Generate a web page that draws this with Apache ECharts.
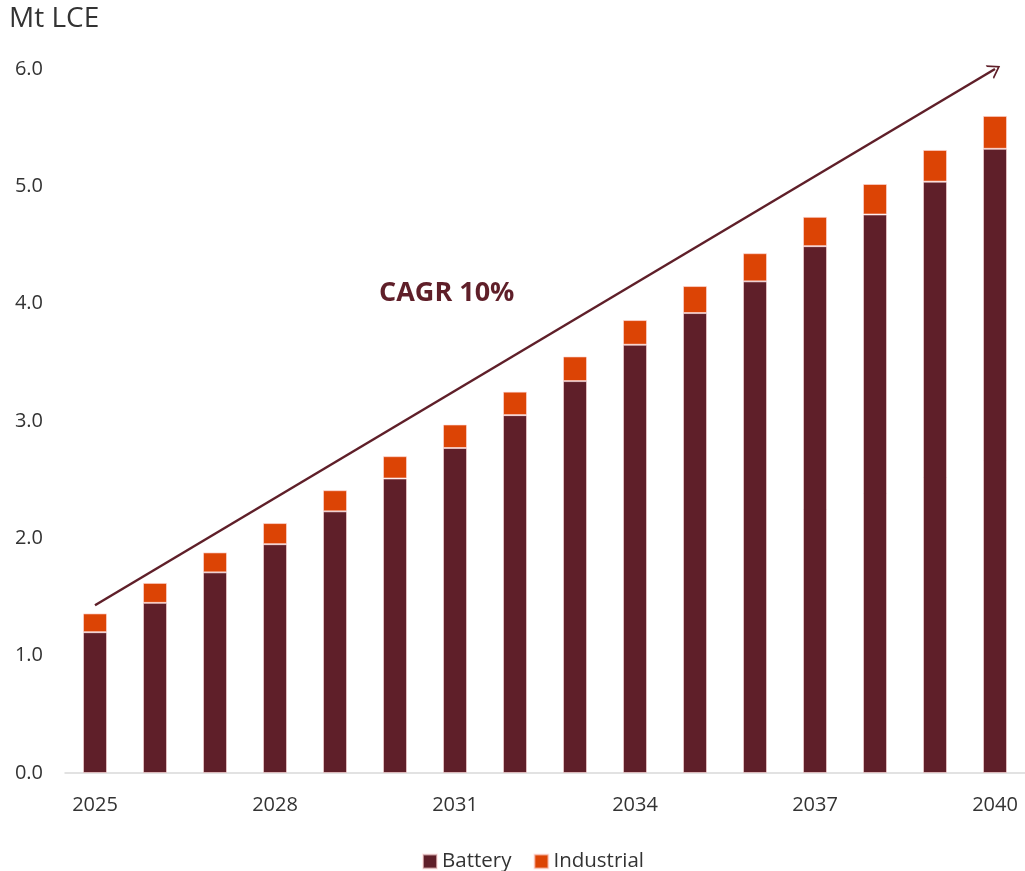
<!DOCTYPE html>
<html>
<head>
<meta charset="utf-8">
<script src="https://cdn.jsdelivr.net/npm/echarts@6/dist/echarts.min.js"></script>
<style>html,body{margin:0;padding:0;background:#fff;}#chart{width:1025px;height:871px;}</style>
</head>
<body>
<div id="chart"></div>
<script>
const years = ['2025','2026','2027','2028','2029','2030','2031','2032','2033','2034','2035','2036','2037','2038','2039','2040'];
const battery = [1.20, 1.45, 1.71, 1.95, 2.23, 2.51, 2.77, 3.05, 3.34, 3.65, 3.92, 4.19, 4.49, 4.76, 5.04, 5.32];
const industrial = [0.16, 0.17, 0.17, 0.18, 0.18, 0.19, 0.20, 0.20, 0.21, 0.21, 0.23, 0.24, 0.25, 0.26, 0.27, 0.28];
const yTicks = [0, 1, 2, 3, 4, 5, 6];
const trendStart = ['2025', 1.43];
const trendEnd = ['2040', 6.0];
const cagrLabel = 'CAGR 10%';
const unitLabel = 'Mt LCE';

const FONT = '"Open Sans", "Noto Sans", sans-serif';
const chart = echarts.init(document.getElementById('chart'));
const chevron = 'path://M0,20 L10,0 L20,20 L17.4,20 L10,5 L2.6,20 Z';

chart.setOption({
  animation: false,
  backgroundColor: '#ffffff',
  textStyle: { fontFamily: FONT },
  grid: { left: 65, right: 0, top: 69, bottom: 98, containLabel: false },
  legend: {
    top: 846,
    left: 417,
    itemWidth: 14,
    itemHeight: 14,
    itemGap: 22,
    icon: 'rect',
    textStyle: { fontFamily: FONT, fontSize: 20.5, color: '#333' },
    data: ['Battery', 'Industrial']
  },
  graphic: [
    { type: 'text', left: 9, top: 5, style: { text: unitLabel, fontFamily: FONT, fontSize: 28, fill: '#333' } },
    { type: 'text', left: 379, top: 280, style: { text: cagrLabel, fontFamily: FONT, fontSize: 27, fontWeight: 'bold', fill: '#5f1f29' } }
  ],
  xAxis: {
    type: 'category',
    data: years,
    axisTick: { show: false },
    axisLine: { lineStyle: { color: '#d9d9d9', width: 1.5 } },
    axisLabel: { interval: 2, fontSize: 20, color: '#333', margin: 22, fontFamily: FONT }
  },
  yAxis: {
    type: 'value',
    min: yTicks[0],
    max: yTicks[yTicks.length - 1],
    interval: 1,
    splitLine: { show: false },
    axisLine: { show: false },
    axisTick: { show: false },
    axisLabel: { fontSize: 20, color: '#333', margin: 22, fontFamily: FONT, formatter: v => v.toFixed(1) }
  },
  series: [
    {
      name: 'Battery', type: 'bar', stack: 'total', barWidth: 24, data: battery,
      itemStyle: { color: '#5f1f29', borderColor: 'rgba(255,220,220,0.6)', borderWidth: 1 },
      markLine: {
        silent: true,
        symbol: ['none', chevron],
        symbolSize: [16, 12],
        label: { show: false },
        lineStyle: { color: '#5f1f29', width: 2.5, type: 'solid' },
        data: [[{ coord: trendStart }, { coord: trendEnd }]]
      }
    },
    {
      name: 'Industrial', type: 'bar', stack: 'total', barWidth: 24, data: industrial,
      itemStyle: { color: '#dc4405', borderColor: 'rgba(255,220,220,0.6)', borderWidth: 1 }
    }
  ]
});
</script>
</body>
</html>
